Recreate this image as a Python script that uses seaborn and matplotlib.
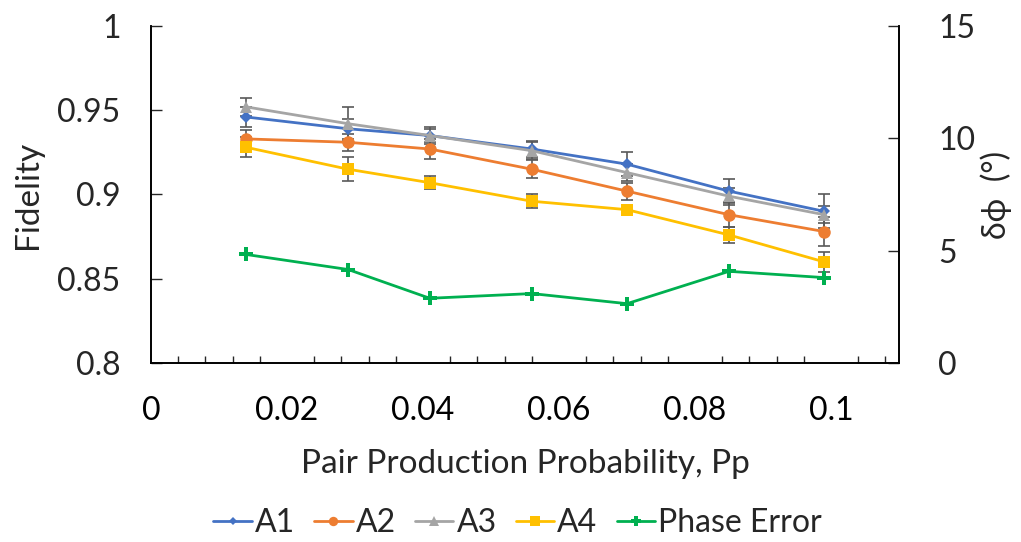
import numpy as np
import pandas as pd
import matplotlib
matplotlib.use("Agg")
import matplotlib.pyplot as plt
from matplotlib.ticker import MultipleLocator
from matplotlib.lines import Line2D
import seaborn as sns

# ---- data ----
pp = [0.014, 0.029, 0.041, 0.056, 0.070, 0.085, 0.099]
a1 = [0.946, 0.939, 0.935, 0.927, 0.918, 0.902, 0.890]
a2 = [0.933, 0.931, 0.927, 0.915, 0.902, 0.888, 0.878]
a3 = [0.952, 0.942, 0.935, 0.926, 0.913, 0.899, 0.888]
a4 = [0.928, 0.915, 0.907, 0.896, 0.891, 0.876, 0.860]
a1_err = [0.006, 0.006, 0.004, 0.005, 0.007, 0.007, 0.010]
a2_err = [0.005, 0.005, 0.006, 0.0055, 0.005, 0.0075, 0.0085]
a3_err = [0.0055, 0.010, 0.005, 0.005, 0.005, 0.005, 0.005]
a4_err = [0.006, 0.007, 0.004, 0.004, 0.003, 0.005, 0.006]
phase = [4.83, 4.16, 2.88, 3.09, 2.64, 4.08, 3.80]

names = ["A1", "A2", "A3", "A4"]
colors = {"A1": "#4472C4", "A2": "#ED7D31", "A3": "#A5A5A5", "A4": "#FFC000", "Phase Error": "#00B050"}
markers = {"A1": "D", "A2": "o", "A3": "^", "A4": "s", "Phase Error": "P"}
msizes = {"A1": 6, "A2": 9, "A3": 9, "A4": 9, "Phase Error": 10}

df = pd.DataFrame({
    "Pp": pp * 4,
    "Fidelity": a1 + a2 + a3 + a4,
    "err": a1_err + a2_err + a3_err + a4_err,
    "series": sum([[n] * len(pp) for n in names], []),
})
dfp = pd.DataFrame({"Pp": pp, "phase": phase})

sns.set_theme(style="white")
plt.rcParams["font.family"] = ["Lato", "DejaVu Sans"]
plt.rcParams["font.size"] = 23

fig = plt.figure(figsize=(10.21, 5.42), dpi=100)
ax = fig.add_axes([0.1479, 0.3303, 0.8805 - 0.1479, 0.952 - 0.3303])
ax2 = ax.twinx()

for n in names:
    sub = df[df["series"] == n]
    ax.errorbar(sub["Pp"], sub["Fidelity"], yerr=sub["err"], fmt="none",
                ecolor="#595959", elinewidth=1.2, capsize=4, capthick=1.2, zorder=2)
for n in names:
    sub = df[df["series"] == n]
    sns.lineplot(data=sub, x="Pp", y="Fidelity", ax=ax, color=colors[n],
                 marker=markers[n], markersize=msizes[n], markeredgewidth=0,
                 linewidth=2, legend=False, zorder=3)

sns.lineplot(data=dfp, x="Pp", y="phase", ax=ax2, color=colors["Phase Error"],
             marker="P", markersize=msizes["Phase Error"], markeredgewidth=0,
             linewidth=2, legend=False)

ax.set_xlim(0, 0.11)
ax.set_ylim(0.8, 1.0)
ax2.set_ylim(0, 15)
ax.xaxis.set_major_locator(MultipleLocator(0.02))
ax.xaxis.set_minor_locator(MultipleLocator(0.004))

ax.set_xticks([0, 0.02, 0.04, 0.06, 0.08, 0.1])
ax.set_xticklabels(["0", "0.02", "0.04", "0.06", "0.08", "0.1"])
ax.set_yticks([0.8, 0.85, 0.9, 0.95, 1.0])
ax.set_yticklabels(["0.8", "0.85", "0.9", "0.95", "1"])
ax2.set_yticks([0, 5, 10, 15])
ax2.set_yticklabels(["0", "5", "10", "15"])

for a in (ax, ax2):
    a.spines["top"].set_visible(False)
    for s in a.spines.values():
        s.set_color("black")
        s.set_linewidth(1.2)
ax.tick_params(axis="x", which="major", direction="in", length=8, width=1, labelsize=23, pad=24, colors="black")
ax.tick_params(axis="x", which="minor", direction="in", length=5, width=1, bottom=True)
ax.tick_params(axis="y", which="major", direction="in", length=8, width=1, labelsize=23, pad=22, left=True)
ax2.tick_params(axis="y", which="major", direction="in", length=8, width=1, labelsize=23, pad=28, right=True)

ax.set_xlabel("Pair Production Probability, Pp", fontsize=24, labelpad=16)
ax.set_ylabel("Fidelity", fontsize=24, labelpad=10)
ax2.set_ylabel("δϕ  (°)", fontsize=23, labelpad=4)

handles = [Line2D([0], [0], color=colors[n], marker=markers[n], markersize=msizes[n] * 0.75,
                  markeredgewidth=0, linewidth=2) for n in names + ["Phase Error"]]
fig.legend(handles, names + ["Phase Error"], loc="center", bbox_to_anchor=(0.507, 0.035),
           ncol=5, frameon=False, fontsize=23, handlelength=1.2, handletextpad=0.1,
           columnspacing=0.6)

fig.savefig("out.png", dpi=100)
